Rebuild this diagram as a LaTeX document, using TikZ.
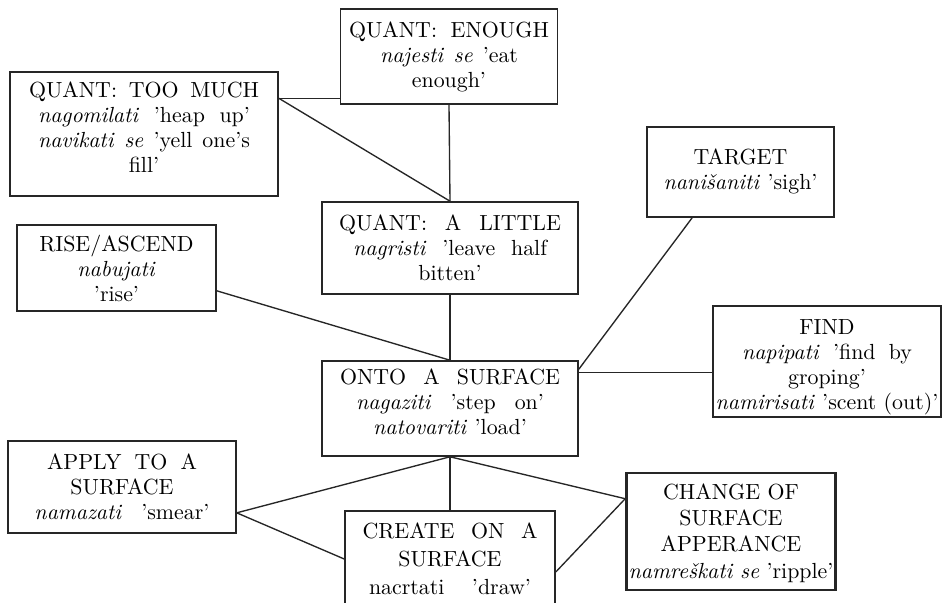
\documentclass[tikz,border=0pt]{standalone}
\usepackage{fontspec}
\usetikzlibrary{calc}
\newdimen\pxu \pxu=0.48pt
\newcommand\js[2]{\makebox[#1\pxu][s]{#2}}
\tikzset{
  box/.style={draw=black!85, line width=0.75pt, align=center, inner sep=1pt,
    font=\fontsize{10.5}{12}\selectfont},
  thickbox/.style={box, line width=1.2pt},
  link/.style={draw=black!85, line width=0.65pt}
}
\begin{document}
\begin{tikzpicture}[x=0.48pt, y=-0.48pt]
\useasboundingbox (0,0) rectangle (942,602);
\node[box, minimum width=104.2pt, minimum height=45.6pt] (enough) at (449,56.5)
  {\js{200}{QUANT: ENOUGH}\\ \js{138}{\textit{najesti se} 'eat}\\ enough'};
\node[box, minimum width=128.6pt, minimum height=59.5pt] (toomuch) at (144,134)
  {\js{230}{QUANT: TOO MUCH}\\ \js{212}{\textit{nagomilati} 'heap up'}\\ \js{212}{\textit{navikati se} 'yell one's}\\ fill'\rule[-7pt]{0pt}{7pt}};
\node[box, minimum width=122.9pt, minimum height=44.2pt] (alittle) at (450,248)
  {\js{222}{QUANT: A LITTLE}\\ \js{194}{\textit{nagristi} 'leave half}\\ bitten'};
\node[box, minimum width=89.8pt, minimum height=43.2pt] (target) at (740.5,172)
  {TARGET\\ \js{154}{\textit{nanišaniti} 'sigh'}\rule[-3pt]{0pt}{3pt}};
\node[box, minimum width=95.5pt, minimum height=41.3pt] (rise) at (116.5,268)
  {RISE/ASCEND\\ \textit{nabujati}\\ 'rise'};
\node[box, minimum width=122.9pt, minimum height=45.6pt] (onto) at (450,408.5)
  {\js{220}{ONTO A SURFACE}\\ \js{188}{\textit{nagaziti} 'step on'}\\ \textit{natovariti} 'load'\rule[-6.7pt]{0pt}{6.7pt}};
\node[box, minimum width=109.4pt, minimum height=47.5pt] (find) at (827,361.5)
  {\rule{0pt}{12.5pt}FIND\\ \js{170}{\textit{napipati} 'find by}\\ groping'\\ \textit{namirisati} 'scent (out)'};
\node[box, minimum width=109.4pt, minimum height=44.2pt] (apply) at (122,487)
  {\js{150}{APPLY TO A}\\ SURFACE\\ \js{175}{\textit{namazati} 'smear'}};
\node[box, minimum width=100.8pt, minimum height=46.1pt] (create) at (450,559)
  {\js{175}{CREATE ON A}\\[1.4pt] SURFACE\\[1.4pt] \js{162}{nacrtati 'draw'}};
\node[thickbox, minimum width=98pt, minimum height=56.2pt] (change) at (731,531.5)
  {\rule{0pt}{9pt}CHANGE OF\\[0.6pt] SURFACE\\[0.6pt] APPERANCE\\[0.6pt] \textit{namreškati se} 'ripple'};

\coordinate (tm) at ($(toomuch.north east)+(0,27)$);
\draw[link] (tm) -- (tm -| enough.west);
\draw[link] (tm) -- (alittle.north);
\draw[link] (enough.south) -- (alittle.north);
\draw[link] (alittle.south) -- (onto.north);
\draw[link] ($(rise.south east)+(0,-21)$) -- (onto.north);
\draw[link] ($(target.south west)+(46,0)$) -- ($(onto.north east)+(0,9)$);
\coordinate (of) at ($(onto.north east)+(0,12)$);
\draw[link] (of) -- (of -| find.west);
\coordinate (ap) at ($(apply.south east)+(0,-21)$);
\coordinate (ch) at ($(change.north west)+(0,27)$);
\draw[link] (onto.south) -- (ap);
\draw[link] (ap) -- (create.west);
\draw[link] (onto.south) -- (create.north);
\draw[link] (onto.south) -- (ch);
\draw[link] ($(create.east)+(0,13)$) -- (ch);
\end{tikzpicture}
\end{document}
